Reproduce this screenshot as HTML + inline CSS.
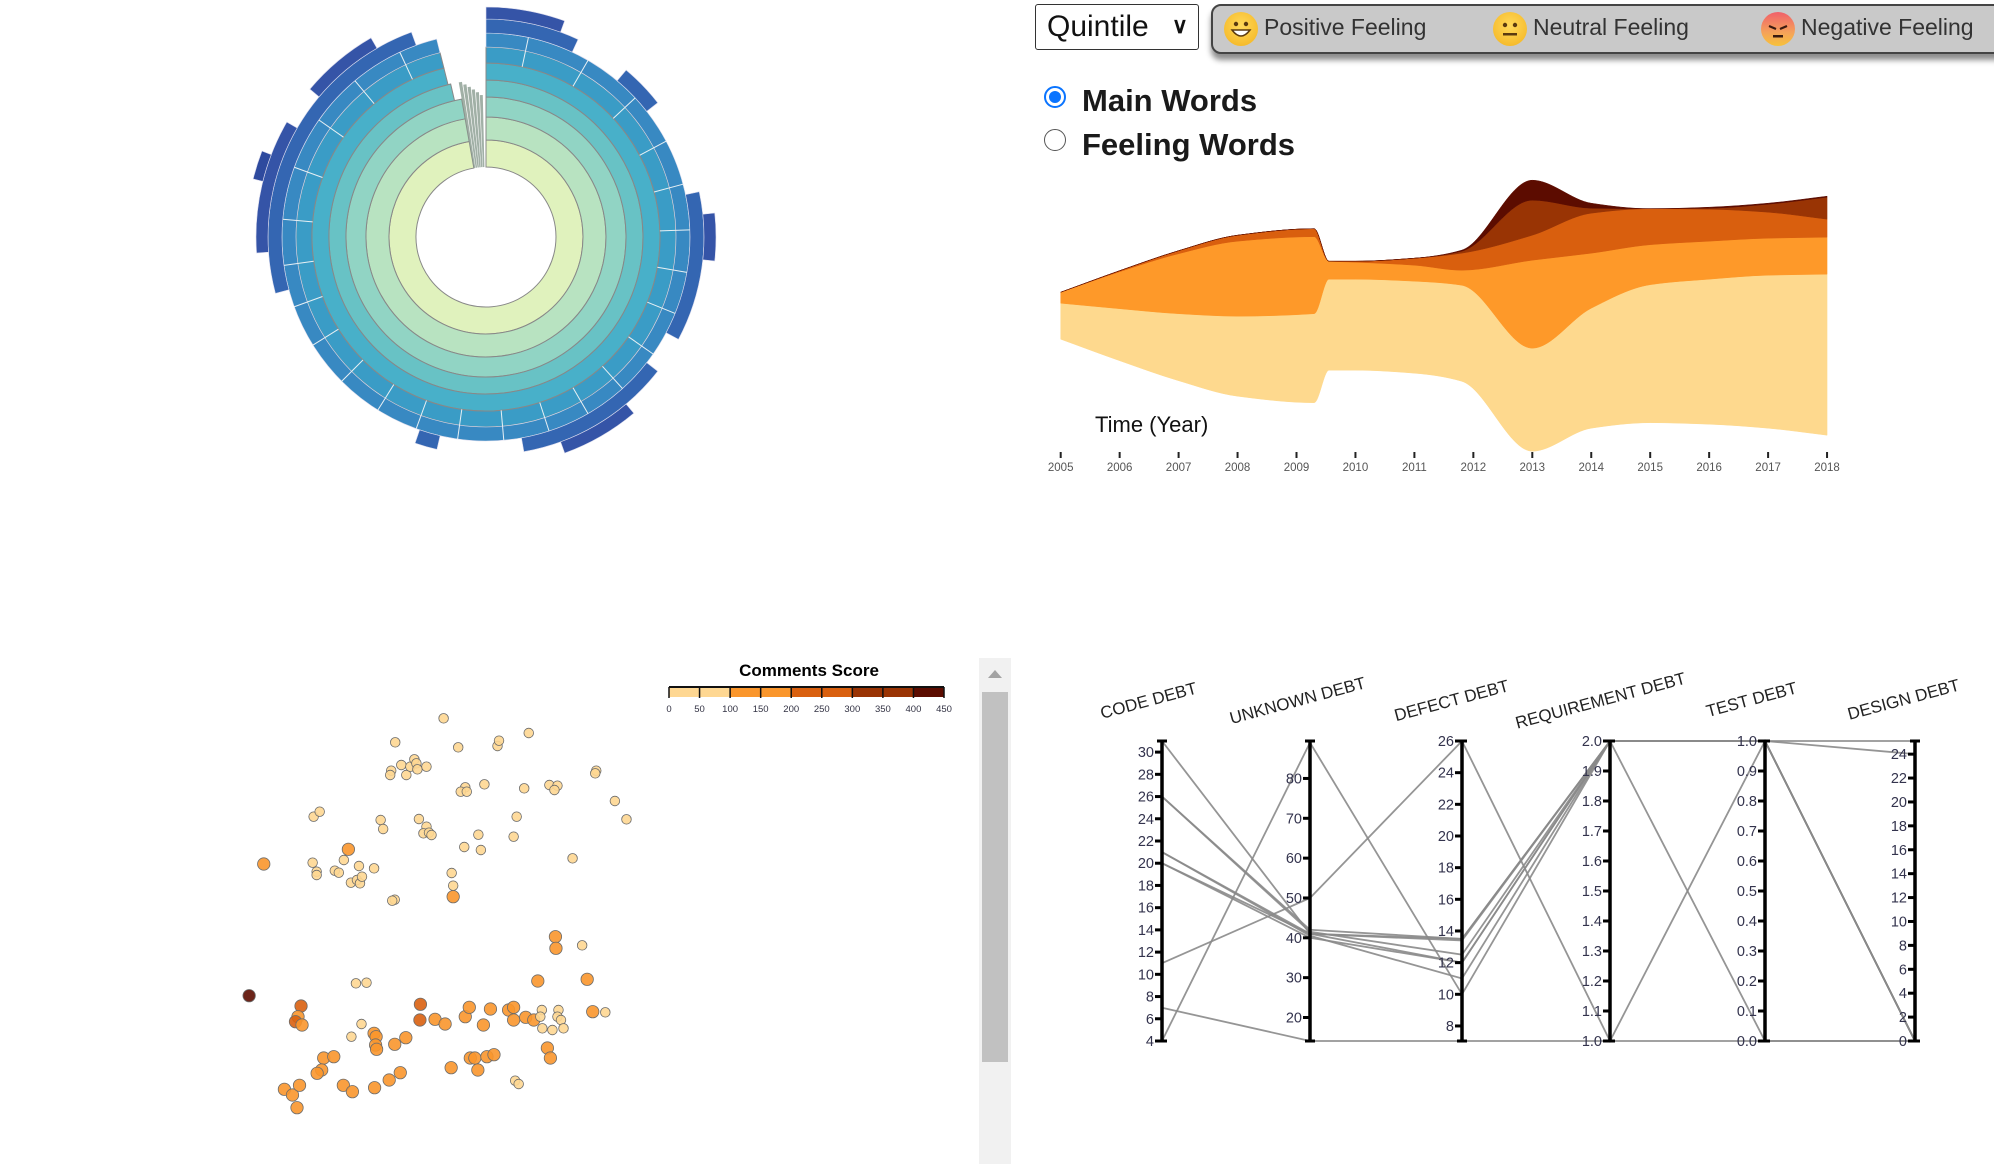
<!DOCTYPE html>
<html><head><meta charset="utf-8"><style>
body{margin:0;width:1994px;height:1164px;overflow:hidden;background:#fff;font-family:"Liberation Sans",sans-serif;position:relative}
.abs{position:absolute}
#dd{left:1035px;top:4px;width:164px;height:46px;border:1.5px solid #333;border-radius:3px;box-sizing:border-box;font-size:30px;color:#111;padding-left:11px;line-height:44px;background:#fff}
#dd span.chev{position:absolute;right:10px;top:-1px;font-size:22px;font-weight:bold}
#emobar{left:1211px;top:4px;width:800px;height:46px;background:#c9c9c9;border:2.5px solid #444;border-radius:10px;box-shadow:0 6px 6px rgba(0,0,0,0.45)}
.emo{position:absolute;top:6px;width:34px;height:34px;border-radius:50%;background:radial-gradient(circle at 50% 40%,#ffd95a,#f3b21e)}
.emot{position:absolute;top:8px;font-size:23px;color:#333}
.radio{width:22px;height:22px;border-radius:50%;box-sizing:border-box}
.rl{font-size:31px;font-weight:bold;color:#1a1a1a}
</style></head><body>
<div id="dd" class="abs">Quintile<span class="chev">&#8744;</span></div>
<div id="emobar" class="abs">
  <div class="emo" style="left:11px"><svg width="34" height="34"><circle cx="12" cy="12" r="2.2" fill="#5a3a10"/><circle cx="22" cy="12" r="2.2" fill="#5a3a10"/><path d="M8 18 Q17 30 26 18 Z" fill="#fff" stroke="#5a3a10" stroke-width="1.5"/></svg></div>
  <div class="emot" style="left:51px">Positive Feeling</div>
  <div class="emo" style="left:280px"><svg width="34" height="34"><circle cx="12" cy="13" r="2.2" fill="#5a3a10"/><circle cx="22" cy="13" r="2.2" fill="#5a3a10"/><rect x="10" y="21" width="14" height="2.5" fill="#5a3a10"/></svg></div>
  <div class="emot" style="left:320px">Neutral Feeling</div>
  <div class="emo" style="left:548px;background:linear-gradient(#f0606a,#f5a25a 60%,#f7c23a)"><svg width="34" height="34"><path d="M8 14 L15 17 M26 14 L19 17" stroke="#3a1a10" stroke-width="2.2"/><rect x="12" y="23" width="10" height="2.5" fill="#3a1a10"/></svg></div>
  <div class="emot" style="left:588px">Negative Feeling</div>
</div>
<div class="abs radio" style="left:1044px;top:86px;background:#fff;border:2px solid #0a74ff"><div style="position:absolute;left:3px;top:3px;width:12px;height:12px;border-radius:50%;background:#0a74ff"></div></div>
<div class="abs rl" style="left:1082px;top:83px">Main Words</div>
<div class="abs radio" style="left:1044px;top:129px;border:1.5px solid #555"></div>
<div class="abs rl" style="left:1082px;top:127px">Feeling Words</div>
<div class="abs" style="left:979px;top:658px;width:32px;height:506px;background:#f1f1f1">
  <div class="abs" style="left:9px;top:12px;width:0;height:0;border-left:7px solid transparent;border-right:7px solid transparent;border-bottom:8px solid #a3a3a3"></div>
  <div class="abs" style="left:3px;top:34px;width:26px;height:370px;background:#c1c1c1"></div>
</div>
<svg id="svg" class="abs" style="left:0;top:0" width="1994" height="1164"></svg>
<script>
const NS="http://www.w3.org/2000/svg";
const svg=document.getElementById('svg');
function mk(tag,attrs,parent){const e=document.createElementNS(NS,tag);for(const k in attrs)e.setAttribute(k,attrs[k]);(parent||svg).appendChild(e);return e;}

/* ===== SUNBURST ===== */
const sbRadii=[70,97,120,140,157,174,190,204,218,230,240];
const sbColors=['#e0f2bd','#b8e3c1','#91d4c4','#68c2c5','#48b0c9','#3a9cc6','#3889c2','#3466b2','#3554a7','#2e4a9e'];
const sbSegments=[ // [ring, startDeg, endDeg]
 [0,0,350],[1,0,350],[2,0,350],[3,0,347],[4,0,346],[5,0,346],[6,0,346],
 [7,0,25],[7,40,52],[7,78,118],[7,128,170],[7,193,199],[7,255,340],
 [8,0,20],[8,84,96],[8,140,160],[8,266,300],[8,310,330],[9,284,291]];
const sbSep=[12,30,47,62,75,88,100,112,125,138,150,162,175,188,200,212,225,238,250,262,275,290,305,320,335];
const sbGrey=[350,351.5,353,354.5,356,357.5];
const SC={x:486,y:237};
function arc(r0,r1,a0,a1){const t0=(a0-90)*Math.PI/180,t1=(a1-90)*Math.PI/180,l=(a1-a0)>180?1:0;
 const p=(r,t)=>(SC.x+r*Math.cos(t)).toFixed(2)+','+(SC.y+r*Math.sin(t)).toFixed(2);
 return 'M'+p(r1,t0)+'A'+r1+','+r1+' 0 '+l+' 1 '+p(r1,t1)+'L'+p(r0,t1)+'A'+r0+','+r0+' 0 '+l+' 0 '+p(r0,t0)+'Z';}
const gSb=mk('g',{});

sbSegments.forEach(s=>{const r=s[0];const e=mk('path',{d:arc(sbRadii[r],sbRadii[r+1],s[1],s[2]),fill:sbColors[Math.min(r,9)],stroke:r<6?'#888':'#dde','stroke-width':r<6?1:0.6},gSb);
 });
sbGrey.forEach((a,i)=>{const e=mk('path',{d:arc(sbRadii[0],sbRadii[4]-i*3,a,a+1.2),fill:'#8a9c90',opacity:0.8},gSb);
 });
sbSep.forEach(a=>{const t=(a-90)*Math.PI/180;const e=mk('line',{x1:SC.x+sbRadii[5]*Math.cos(t),y1:SC.y+sbRadii[5]*Math.sin(t),x2:SC.x+sbRadii[7]*Math.cos(t),y2:SC.y+sbRadii[7]*Math.sin(t),stroke:'#e8f0f4','stroke-width':1},gSb);
 });

/* ===== STREAMGRAPH ===== */
const stTimes=[2005,2006,2007,2008,2009.3,2009.55,2010,2011,2011.8,2013,2014,2015,2016,2017,2018];
const stLight=[36,52,67,80,89,91,91,92,96,103,120,138,145,153,161];
const stOrange=[11,37,60,75,77,18,17,16,15,88,55,40,38,37,37];
const stDarkOrange=[0,1,3,6,8,0,1,7,17,25,40,36,32,26,18];
const stBrown=[0,0,0,0,0,0,0,0,2,35,5,0,1,8,22];
const stDark=[0,0,0,0,0,0,0,0,1,20,5,0,1,1,1];
const stYears=[2005,2006,2007,2008,2009,2010,2011,2012,2013,2014,2015,2016,2017,2018];
const stLayers=[stLight,stOrange,stDarkOrange,stBrown,stDark];
const stColors=['#fed98e','#fe9929','#d95f0e','#993404','#5c0c00'];
const sx=t=>1060.7+(t-2005)*58.95, sCenter=315.7, sk=1.0;
function monotone(xs,ys){const n=xs.length,d=[],m=[];for(let i=0;i<n-1;i++)d.push((ys[i+1]-ys[i])/(xs[i+1]-xs[i]));
 m[0]=d[0];m[n-1]=d[n-2];for(let i=1;i<n-1;i++){m[i]=(d[i-1]*d[i]<=0)?0:(2*d[i-1]*d[i]/(d[i-1]+d[i]));}
 let s='';for(let i=0;i<n-1;i++){const h=(xs[i+1]-xs[i])/3;s+=' C'+(xs[i]+h).toFixed(2)+','+(ys[i]+m[i]*h).toFixed(2)+' '+(xs[i+1]-h).toFixed(2)+','+(ys[i+1]-m[i+1]*h).toFixed(2)+' '+xs[i+1].toFixed(2)+','+ys[i+1].toFixed(2);}return s;}
const gSt=mk('g',{});

const tot=stTimes.map((_,i)=>stLayers.reduce((a,l)=>a+l[i],0));
let base=tot.map(v=>sCenter+v*sk/2);
const xs=stTimes.map(sx);
stLayers.forEach((L,li)=>{const top=base.map((b,i)=>b-L[i]*sk);
 const rx=xs.slice().reverse(),rb=base.slice().reverse();
 const d='M'+xs[0]+','+top[0]+monotone(xs,top)+' L'+rx[0]+','+rb[0]+monotone(rx,rb)+'Z';
 const e=mk('path',{d:d,fill:stColors[li],stroke:stColors[li],'stroke-width':0.5},gSt);
 base=top;});
stYears.forEach(y=>{const t=mk('line',{x1:sx(y),x2:sx(y),y1:452,y2:458,stroke:'#222','stroke-width':2},gSt);
 
 const l=mk('text',{x:sx(y),y:471,'text-anchor':'middle','font-size':11.5,fill:'#555'},gSt);l.textContent=y;
 });
const tt=mk('text',{x:1095,y:432,'font-size':22,fill:'#111'},gSt);tt.textContent='Time (Year)';


/* ===== SCATTER ===== */
const scX=[424,328,453,531,534,593,320,318,340,350,358,366,370,372,390,727,725,467,458,470,505,584,634,650,644,764,787,166,178,299,304,375,390,384,395,400,493,569,563,465,498,680,164,172,172,226,208,216,256,286,240,252,258,262,440,443,327,322,250,271,261,241,745,699,
 235,67,443,646,647,611,709,378,377,141,135,130,143,407,427,467,475,517,503,553,563,563,587,603,720,286,290,289,291,327,349,186,206,182,173,108,124,138,133,225,243,287,316,338,439,477,486,492,510,524,630,636,38,
 619,616,652,650,657,620,640,662,566,573];
const scY=[205,277,292,288,272,249,362,375,345,375,350,328,340,358,350,362,370,412,425,425,403,415,405,407,420,453,508,500,485,510,537,507,530,550,548,555,554,500,560,591,600,625,638,665,675,630,662,668,648,655,698,690,700,680,669,707,749,752,1000,998,1122,1160,1087,886,
 598,642,740,860,895,993,988,1063,1110,1068,1100,1115,1125,1108,1122,1100,1072,1077,1125,1080,1072,1110,1102,1110,1085,1150,1160,1185,1198,1183,1163,1224,1220,1260,1270,1318,1335,1306,1373,1306,1325,1313,1290,1268,1253,1224,1224,1260,1220,1214,1194,1224,1037,
 1080,1100,1080,1100,1110,1135,1140,1135,1292,1302];
const scScore=[30,25,20,30,35,40,25,30,20,25,30,35,30,25,30,40,35,30,25,30,25,30,35,30,25,30,40,30,25,30,25,30,35,30,25,30,25,30,35,25,30,35,30,25,30,35,30,25,30,35,30,25,30,35,25,30,25,30,30,35,40,40,45,40,
 120,125,130,135,170,150,140,205,205,230,175,200,190,140,140,140,130,130,150,150,140,140,160,160,130,150,140,140,140,140,140,140,140,170,190,195,140,140,140,180,185,140,140,140,140,140,140,140,140,140,140,140,440,
 40,40,40,40,40,40,40,40,40,40];
const legTicks=[0,50,100,150,200,250,300,350,400,450];
const legColors=['#fed792','#fed792','#fa962c','#fa962c','#d9600f','#d9600f','#9a3404','#9a3404','#5c0c00'];
const ex=v=>230+v/1.985, ey=v=>650+v/3;
const colorOf=s=>legColors[Math.min(8,Math.floor(s/50))];
const gSc=mk('g',{});

scX.forEach((x,i)=>{const s=scScore[i];const c=mk('circle',{cx:ex(x),cy:ey(scY[i]),r:s>=100?6.2:4.8,fill:colorOf(s),stroke:'#6b6b6b','stroke-width':0.8,'fill-opacity':0.9},gSc);
 });
const lx=v=>669+v/450*275;
const lt=mk('text',{x:809,y:676,'text-anchor':'middle','font-size':17,'font-weight':'bold',fill:'#000'},gSc);lt.textContent='Comments Score';

legColors.forEach((c,i)=>{const r=mk('rect',{x:lx(legTicks[i]),y:687,width:lx(legTicks[i+1])-lx(legTicks[i]),height:10,fill:c},gSc);
 });
mk('line',{x1:lx(0),x2:lx(450),y1:687,y2:687,stroke:'#111','stroke-width':2},gSc);
legTicks.forEach(t=>{const k=mk('line',{x1:lx(t),x2:lx(t),y1:687,y2:698,stroke:'#111','stroke-width':1.5},gSc);
 
 const l=mk('text',{x:lx(t),y:712,'text-anchor':'middle','font-size':9.5,fill:'#334'},gSc);l.textContent=t;
 });

/* ===== PARALLEL COORDINATES ===== */
const pcAxes=['CODE DEBT','UNKNOWN DEBT','DEFECT DEBT','REQUIREMENT DEBT','TEST DEBT','DESIGN DEBT'];
const pcMin=[4,14.1,7.05,1,0,0];
const pcMax=[31,89.4,26,2,1,25.1];
const pcTickStart=[4,20,8,1,0,0], pcTickEnd=[30,80,26,2,1,24], pcTickStep=[2,10,2,0.1,0.1,2];
const pcCode=[31,26,26,21,21,20,20,11,4,7];
const pcUnknown=[41,42,41.5,41,40.5,40,41,50,89,14.1];
const pcDefect=[13.5,13.5,12.5,12,11,12,13.4,26,10,7.05];
const pcReq=[2,2,2,2,2,2,2,1,2,1];
const pcTest=[1,1,1,1,1,0,1,1,1,0];
const pcDesign=[0,0,0,24,0,0,25.1,0,0,0];
const pcData=[pcCode,pcUnknown,pcDefect,pcReq,pcTest,pcDesign];
const pcX=[1162,1310,1462,1610,1765,1915], pcTop=741, pcBot=1041;
const py=(a,v)=>pcBot-(v-pcMin[a])/(pcMax[a]-pcMin[a])*(pcBot-pcTop);
const gPc=mk('g',{});

pcCode.forEach((_,r)=>{const pts=pcData.map((arr,a)=>pcX[a]+','+py(a,arr[r]).toFixed(1)).join(' ');
 const l=mk('polyline',{points:pts,fill:'none',stroke:'#8a8a8a','stroke-width':1.8,opacity:0.9},gPc);
 });
const lblPos=[[1150,706],[1299,706],[1453,706],[1602,706],[1753,705],[1905,705]];
pcAxes.forEach((name,a)=>{const x=pcX[a];
 const ax=mk('line',{x1:x,x2:x,y1:pcTop,y2:pcBot,stroke:'#000','stroke-width':3.5},gPc);
 
 const n=Math.round((pcTickEnd[a]-pcTickStart[a])/pcTickStep[a]);
 for(let i=0;i<=n;i++){const v=pcTickStart[a]+i*pcTickStep[a];const y=py(a,v);
  const t=mk('line',{x1:x-7,x2:x,y1:y,y2:y,stroke:'#000','stroke-width':3},gPc);
  
  const tl=mk('text',{x:x-8,y:y+5,'text-anchor':'end','font-size':14.5,fill:'#33334d'},gPc);
  tl.textContent=pcTickStep[a]<1?v.toFixed(1):v;
  }
 mk('line',{x1:x-5,x2:x+5,y1:pcTop,y2:pcTop,stroke:'#000','stroke-width':3},gPc);
 mk('line',{x1:x-5,x2:x+5,y1:pcBot,y2:pcBot,stroke:'#000','stroke-width':3},gPc);
 const L=mk('text',{x:lblPos[a][0],y:lblPos[a][1],'text-anchor':'middle','font-size':17,fill:'#222',transform:'rotate(-15 '+lblPos[a][0]+' '+lblPos[a][1]+')'},gPc);
 L.textContent=name;});
</script>
</body></html>
